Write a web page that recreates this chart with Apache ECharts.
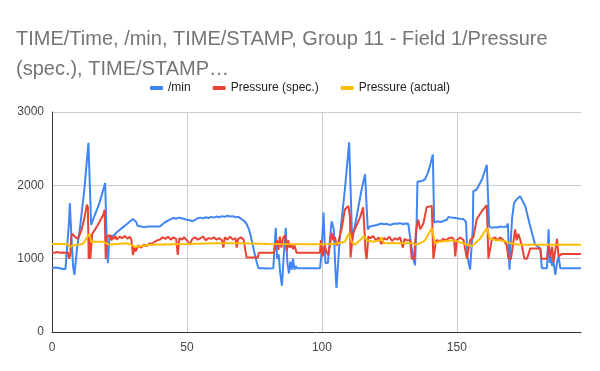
<!DOCTYPE html>
<html>
<head>
<meta charset="utf-8">
<script src="https://cdn.jsdelivr.net/npm/echarts@6/dist/echarts.min.js"></script>
<style>html,body{margin:0;padding:0;background:#fff;}#c{width:600px;height:371px;}</style>
</head>
<body>
<div id="c"></div>
<script>
const titleText = 'TIME/Time, /min, TIME/STAMP, Group 11 - Field 1/Pressure\n(spec.), TIME/STAMP\u2026';
const seriesNames = ['/min', 'Pressure (spec.)', 'Pressure (actual)'];
const xTicks = [0, 50, 100, 150];
const yTicks = [0, 1000, 2000, 3000];

const perMin = [
[0,870],[0.5,855],[1,880],[1.5,860],[2,875],[2.5,850],[3,870],[3.5,880],[4,860],[4.5,875],[5,860],[5.7,880],
[6.3,1500],[6.6,1760],[7.2,1300],[7.8,900],[8.3,780],[9.3,1150],[10.3,1400],[12,1950],[13.5,2580],
[14.5,1460],[15.5,1560],[17.5,1750],[19.7,2030],[20.3,1200],[20.7,940],[21.3,1300],[22,1280],[23,1320],[24,1360],[25,1390],[26,1420],[27,1450],[28,1480],[29,1510],[30,1540],[30.6,1560],[31.2,1500],[31.7,1450],[33,1440],[34,1430],[35,1435],[36,1440],[38,1440],[40,1440],[41,1470],[42,1500],[43,1520],[44,1540],[45,1555],[46,1545],[47,1560],[48,1550],[49,1540],[50,1530],[51,1525],[52,1510],[53,1530],[54,1550],[55,1560],[56,1550],[57,1565],[58,1555],[59,1570],[60,1560],[61,1575],[62,1565],[63,1580],[64,1570],[65,1585],[66,1575],[67,1580],[68,1565],[69,1570],[70,1545],[71,1520],[72,1480],[73,1400],[74,1250],[75,1080],[76,930],[76.5,870],
[78,870],[80,865],[82,870],[82.5,880],[82.9,1420],[83.4,1000],[84,1060],[84.5,820],[85.2,630],[85.8,1000],[86.6,1420],[87.2,950],[87.8,800],[88.3,960],[88.8,850],[89.3,1000],[89.8,850],[90.3,900],[90.8,870],[99.3,870],[99.8,1050],[100.6,1630],[101.3,940],[102.2,940],[103.6,1510],[104.4,1400],[105,850],[105.4,600],[106.7,1320],[108.5,1940],[110.1,2585],[111.2,1260],[112.9,1580],[114.7,1940],[116,2150],[117,1400],[117.8,1440],[119,1450],[120.3,1460],[121,1455],[122.1,1480],[123,1470],[124,1475],[125.2,1460],[126,1470],[127,1480],[128,1475],[129,1485],[130,1470],[131,1480],[132,1475],[132.7,1480],[133.7,1030],[134.5,910],[135.1,1500],[135.4,2050],[135.7,2030],[137,2060],[138.2,2080],[139.4,2180],[140.3,2300],[141.1,2420],[141.6,1490],[142.6,1510],[144,1500],[146.3,1530],[146.9,1570],[148,1560],[150,1550],[151,1545],[152.4,1540],[153.4,1500],[153.9,1030],[154.9,850],[155.9,1400],[156.1,1920],[157.3,1940],[159.3,2080],[161.1,2280],[162,1440],[162.9,1420],[164,1430],[165,1425],[166.1,1440],[167.3,1430],[168.5,1440],[168.9,1480],[169.5,850],[170,1260],[170.5,1560],[171.2,1760],[172.2,1810],[173.5,1850],[175.3,1720],[177.2,1440],[179,1190],[180.9,1140],[181.5,870],[183.4,870],[184,1400],[184.4,940],[184.9,1030],[185.3,900],[185.8,960],[186.5,780],[187.1,940],[187.7,1030],[188.3,870],[196,870]
];

const pressureSpec = [
[0,1085],[1,1080],[2,1090],[3,1080],[4,1085],[5,1080],[5.9,1085],[6.3,1000],[6.8,1050],[7.1,1300],[7.6,1340],[8.2,1310],[8.8,1330],[9.4,1270],[10.2,1320],[11,1400],[12,1550],[12.9,1736],[13.3,1700],[13.6,995],[13.9,1300],[14.2,995],[14.9,1340],[16,1400],[17,1460],[18,1530],[19,1600],[19.5,1668],[19.9,995],[20.3,1300],[21,1280],[21.5,1320],[22,1250],[22.5,1300],[23,1270],[23.5,1310],[24,1260],[25,1300],[26,1280],[27,1310],[28,1270],[28.8,1300],[29.4,1260],[30,1050],[30.5,1160],[31,1100],[32,1180],[33,1150],[34,1190],[35,1170],[36.2,1210],[37,1200],[38,1230],[39,1250],[40,1260],[41,1290],[42,1270],[43,1300],[44,1260],[45,1290],[46,1270],[46.6,1050],[47.2,1280],[48,1260],[49,1290],[50,1250],[51,1190],[52,1270],[53,1290],[54,1260],[55,1280],[56,1300],[57,1250],[58,1280],[59,1270],[60,1290],[61,1260],[62,1280],[63,1250],[63.5,1150],[64,1290],[65,1260],[66,1300],[67,1260],[68,1280],[68.4,1150],[69,1270],[70,1290],[71,1260],[71.6,1250],[72.1,1015],[74,1015],[76.3,1015],[76.6,1080],[82.2,1080],[82.8,1200],[83.4,1250],[83.9,1120],[84.4,1300],[85,1150],[85.6,1280],[86.4,1320],[87,1100],[87.5,1250],[88.1,1150],[88.7,1200],[89.3,1130],[89.9,1180],[90.6,1080],[99.3,1080],[99.6,1250],[100.3,1030],[101,1180],[101.7,1100],[102.4,1045],[103,1200],[103.6,1350],[104.2,1250],[104.8,1300],[105.4,1180],[106,1210],[106.7,1320],[107.3,1400],[108.5,1670],[109.8,1720],[110.4,1570],[110.6,1015],[111.2,995],[111.6,1350],[112.9,1460],[114.1,1560],[115.3,1700],[115.8,1710],[116.2,1080],[116.6,995],[117.2,1300],[118,1280],[119,1310],[120,1250],[121,1290],[122,1200],[123,1280],[124,1260],[125,1300],[126,1240],[127,1280],[128,1260],[129,1290],[130,1150],[130.6,1270],[131.5,1250],[132.7,1250],[133.3,1000],[134.1,990],[134.9,1395],[135.7,1530],[136.4,1400],[137.6,1480],[138.8,1700],[140.7,1720],[141.3,1000],[142.3,1250],[143,1270],[144,1240],[145,1270],[146,1250],[147,1280],[148.2,1290],[149,1260],[149.4,1030],[150,1250],[151.3,1290],[152.5,1250],[153.1,1270],[153.7,1000],[154.3,1000],[154.9,1250],[156.1,1290],[157.4,1540],[159.3,1650],[161.1,1730],[161.7,1000],[163,1270],[164.2,1290],[165,1250],[166.1,1290],[167.3,1250],[168.5,1180],[169.1,1000],[170,990],[170.7,1160],[171.6,1400],[172.2,1250],[172.8,1340],[174.1,1180],[175,1000],[176,1000],[177.2,1140],[180.9,1140],[181.4,1000],[183.4,1000],[184,1200],[184.6,1030],[185.3,1160],[185.8,950],[186.5,1120],[187.1,1270],[187.7,1030],[188.9,1065],[196,1065]
];

const pressureActual = [
[0,1200],[5.5,1200],[6.8,1160],[7.6,1180],[11.4,1200],[12.5,1260],[13.3,1305],[13.9,1340],[14.5,1230],[18.9,1230],[20.1,1210],[21,1190],[27.5,1210],[29.4,1190],[30.6,1160],[32.5,1170],[36.2,1190],[50,1200],[60,1210],[70,1210],[80,1200],[100,1195],[104,1200],[106,1210],[108.5,1230],[110.1,1350],[111,1230],[112.2,1190],[114.1,1250],[115.6,1310],[116.6,1250],[119.1,1230],[121.5,1250],[122.1,1290],[123,1210],[133.7,1210],[134.5,1190],[136.4,1210],[138.2,1250],[140.7,1418],[141.9,1210],[143.2,1230],[148.8,1250],[152.4,1210],[155.5,1170],[158.6,1270],[161.1,1418],[162.3,1270],[164.8,1250],[166.1,1250],[168.5,1230],[169.8,1210],[171.6,1200],[173.5,1190],[196,1190]
];

const colors = ['#4285F4', '#EA4335', '#FBBC04'];
const font = 'Liberation Sans, Arial, sans-serif';

const chart = echarts.init(document.getElementById('c'), null, {renderer: 'canvas'});
chart.setOption({
  animation: false,
  color: colors,
  title: {
    text: titleText,
    left: 16, top: 24, padding: 0,
    textStyle: {fontSize: 20, fontWeight: 'normal', color: '#757575', fontFamily: font, lineHeight: 30}
  },
  legend: {
    top: 77, left: 'center',
    icon: 'roundRect', itemWidth: 13, itemHeight: 4, itemGap: 22,
    textStyle: {fontSize: 12, color: '#222', fontFamily: font},
    data: seriesNames
  },
  grid: {left: 52, right: 19, top: 112, bottom: 39},
  xAxis: {
    type: 'value', min: 0, max: 196, interval: 50,
    axisLine: {show: true, lineStyle: {color: '#333', width: 1}},
    axisTick: {show: false},
    axisLabel: {color: '#444', fontSize: 12, fontFamily: font, margin: 10, showMaxLabel: false,
      formatter: v => xTicks.includes(v) ? String(v) : ''},
    splitLine: {show: true, showMaxLine: false, lineStyle: {color: '#cccccc', width: 1}}
  },
  yAxis: {
    type: 'value', min: 0, max: 3000, interval: 1000,
    axisLine: {show: true, lineStyle: {color: '#333', width: 1}},
    axisTick: {show: false},
    axisLabel: {color: '#444', fontSize: 12, fontFamily: font, margin: 8,
      formatter: v => yTicks.includes(v) ? String(v) : ''},
    splitLine: {show: true, lineStyle: {color: '#cccccc', width: 1}}
  },
  series: [
    {name: seriesNames[0], type: 'line', data: perMin, showSymbol: false, lineStyle: {width: 2}},
    {name: seriesNames[1], type: 'line', data: pressureSpec, showSymbol: false, lineStyle: {width: 2}},
    {name: seriesNames[2], type: 'line', data: pressureActual, showSymbol: false, lineStyle: {width: 2}}
  ]
});
</script>
</body>
</html>
